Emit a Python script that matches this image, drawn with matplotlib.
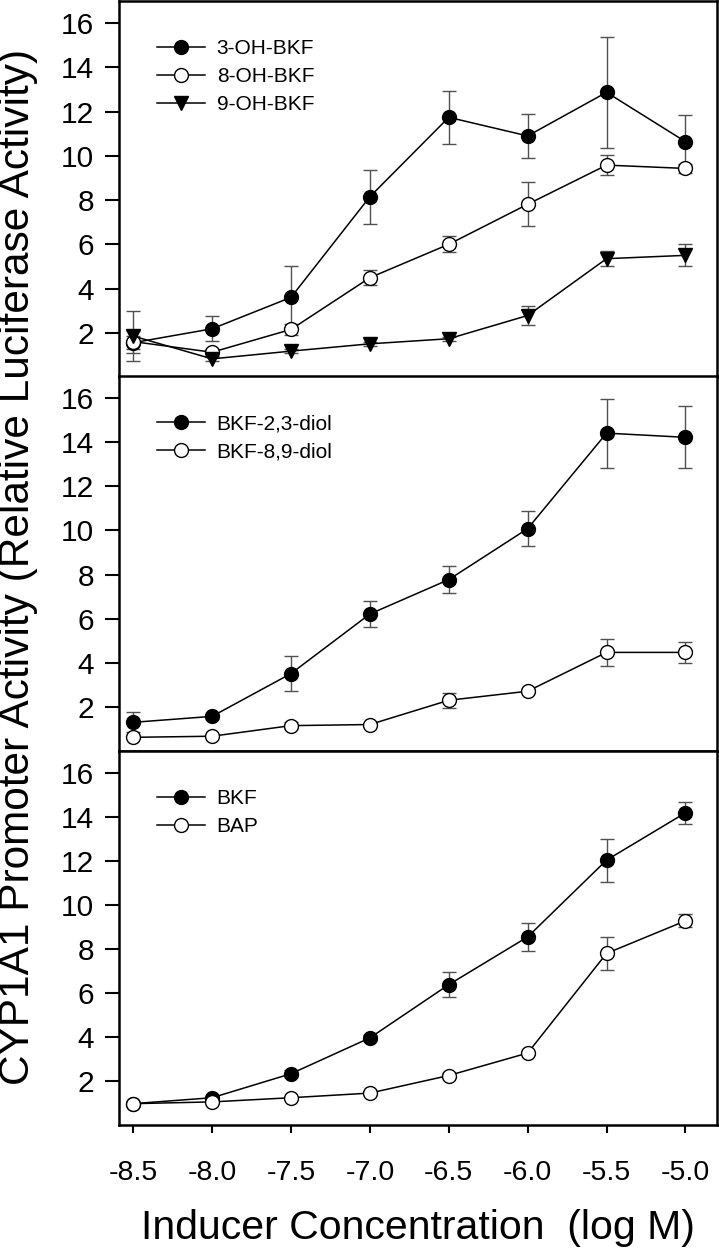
import matplotlib
matplotlib.use('Agg')
import matplotlib.pyplot as plt

plt.rcParams['font.family'] = ['Liberation Sans', 'DejaVu Sans']

# log M concentrations
conc = [-8.5, -8.0, -7.5, -7.0, -6.5, -6.0, -5.5, -5.0]

# panel 1: monohydroxy metabolites
oh3 = [1.55, 2.18, 3.6, 8.15, 11.74, 10.9, 12.87, 10.64]
oh3_err = [0.3, 0.57, 1.4, 1.23, 1.2, 1.0, 2.5, 1.2]
oh8 = [1.6, 1.12, 2.15, 4.49, 6.0, 7.81, 9.58, 9.43]
oh8_err = [0.5, 0.15, 0.25, 0.35, 0.37, 1.0, 0.45, 0.2]
oh9 = [1.85, 0.82, 1.17, 1.5, 1.73, 2.78, 5.35, 5.5]
oh9_err = [1.13, 0.1, 0.1, 0.1, 0.1, 0.45, 0.35, 0.5]

# panel 2: dihydrodiols
diol23 = [1.3, 1.57, 3.51, 6.21, 7.77, 10.08, 14.41, 14.22]
diol23_err = [0.45, 0.1, 0.79, 0.58, 0.62, 0.8, 1.56, 1.4]
diol89 = [0.62, 0.67, 1.15, 1.2, 2.3, 2.71, 4.47, 4.47]
diol89_err = [0.05, 0.05, 0.15, 0.08, 0.35, 0.1, 0.63, 0.47]

# panel 3: parent compounds
bkf = [0.97, 1.24, 2.33, 3.96, 6.38, 8.55, 12.04, 14.19]
bkf_err = [0.05, 0.1, 0.15, 0.15, 0.58, 0.62, 0.98, 0.5]
bap = [0.97, 1.05, 1.24, 1.45, 2.25, 3.27, 7.8, 9.28]
bap_err = [0.05, 0.05, 0.05, 0.08, 0.1, 0.1, 0.76, 0.3]

panels = [
    [('3-OH-BKF', oh3, oh3_err, 'o', 'black'),
     ('8-OH-BKF', oh8, oh8_err, 'o', 'white'),
     ('9-OH-BKF', oh9, oh9_err, 'v', 'black')],
    [('BKF-2,3-diol', diol23, diol23_err, 'o', 'black'),
     ('BKF-8,9-diol', diol89, diol89_err, 'o', 'white')],
    [('BKF', bkf, bkf_err, 'o', 'black'),
     ('BAP', bap, bap_err, 'o', 'white')],
]

fig = plt.figure(figsize=(7.19, 12.51), dpi=100)
left = 119 / 719
width = 598 / 719
boxes = [(1, 377), (376, 751), (751, 1125)]

for i, (series, (top, bot)) in enumerate(zip(panels, boxes)):
    ax = fig.add_axes([left, 1 - bot / 1251, width, (bot - top) / 1251])
    for name, vals, err, mk, fc in series:
        ax.errorbar(conc, vals, yerr=err, fmt='none', ecolor='#505050',
                    elinewidth=1.0, capsize=5, capthick=1.0, zorder=1)
    for name, vals, err, mk, fc in series:
        ax.plot(conc, vals, '-', color='black', lw=1.1, marker=mk,
                markersize=10 if mk == 'o' else 10.5, markerfacecolor=fc,
                markeredgecolor='black', markeredgewidth=1.0, label=name, zorder=3)
    ax.set_xlim(-8.59, -4.80)
    ax.set_ylim(0, 17)
    ax.set_yticks([2, 4, 6, 8, 10, 12, 14, 16])
    ax.tick_params(axis='y', direction='out', length=10, width=1.5,
                   labelsize=21.5, pad=8)
    for s in ax.spines.values():
        s.set_linewidth(1.8)
    if i < 2:
        ax.tick_params(axis='x', bottom=False, labelbottom=False)
    else:
        ax.set_xticks(conc)
        ax.set_xticklabels(['%.1f' % c for c in conc])
        ax.tick_params(axis='x', direction='out', length=6, width=1.5,
                       labelsize=20.5, pad=19)
    ax.legend(loc='upper left', bbox_to_anchor=(0.064, 0.898), frameon=False,
              fontsize=15, handlelength=2.3, handletextpad=0.55,
              labelspacing=0.42, borderpad=0, borderaxespad=0, numpoints=1)

fig.text(418 / 719, 1 - 1228 / 1251, 'Inducer Concentration  (log M)',
         ha='center', va='center', fontsize=29.5)

fig.text(18 / 719, 1 - 567 / 1251,
         'CYP1A1 Promoter Activity (Relative Luciferase Activity)',
         rotation=90, ha='center', va='center', fontsize=30.5)

fig.savefig('out.png', dpi=100)
